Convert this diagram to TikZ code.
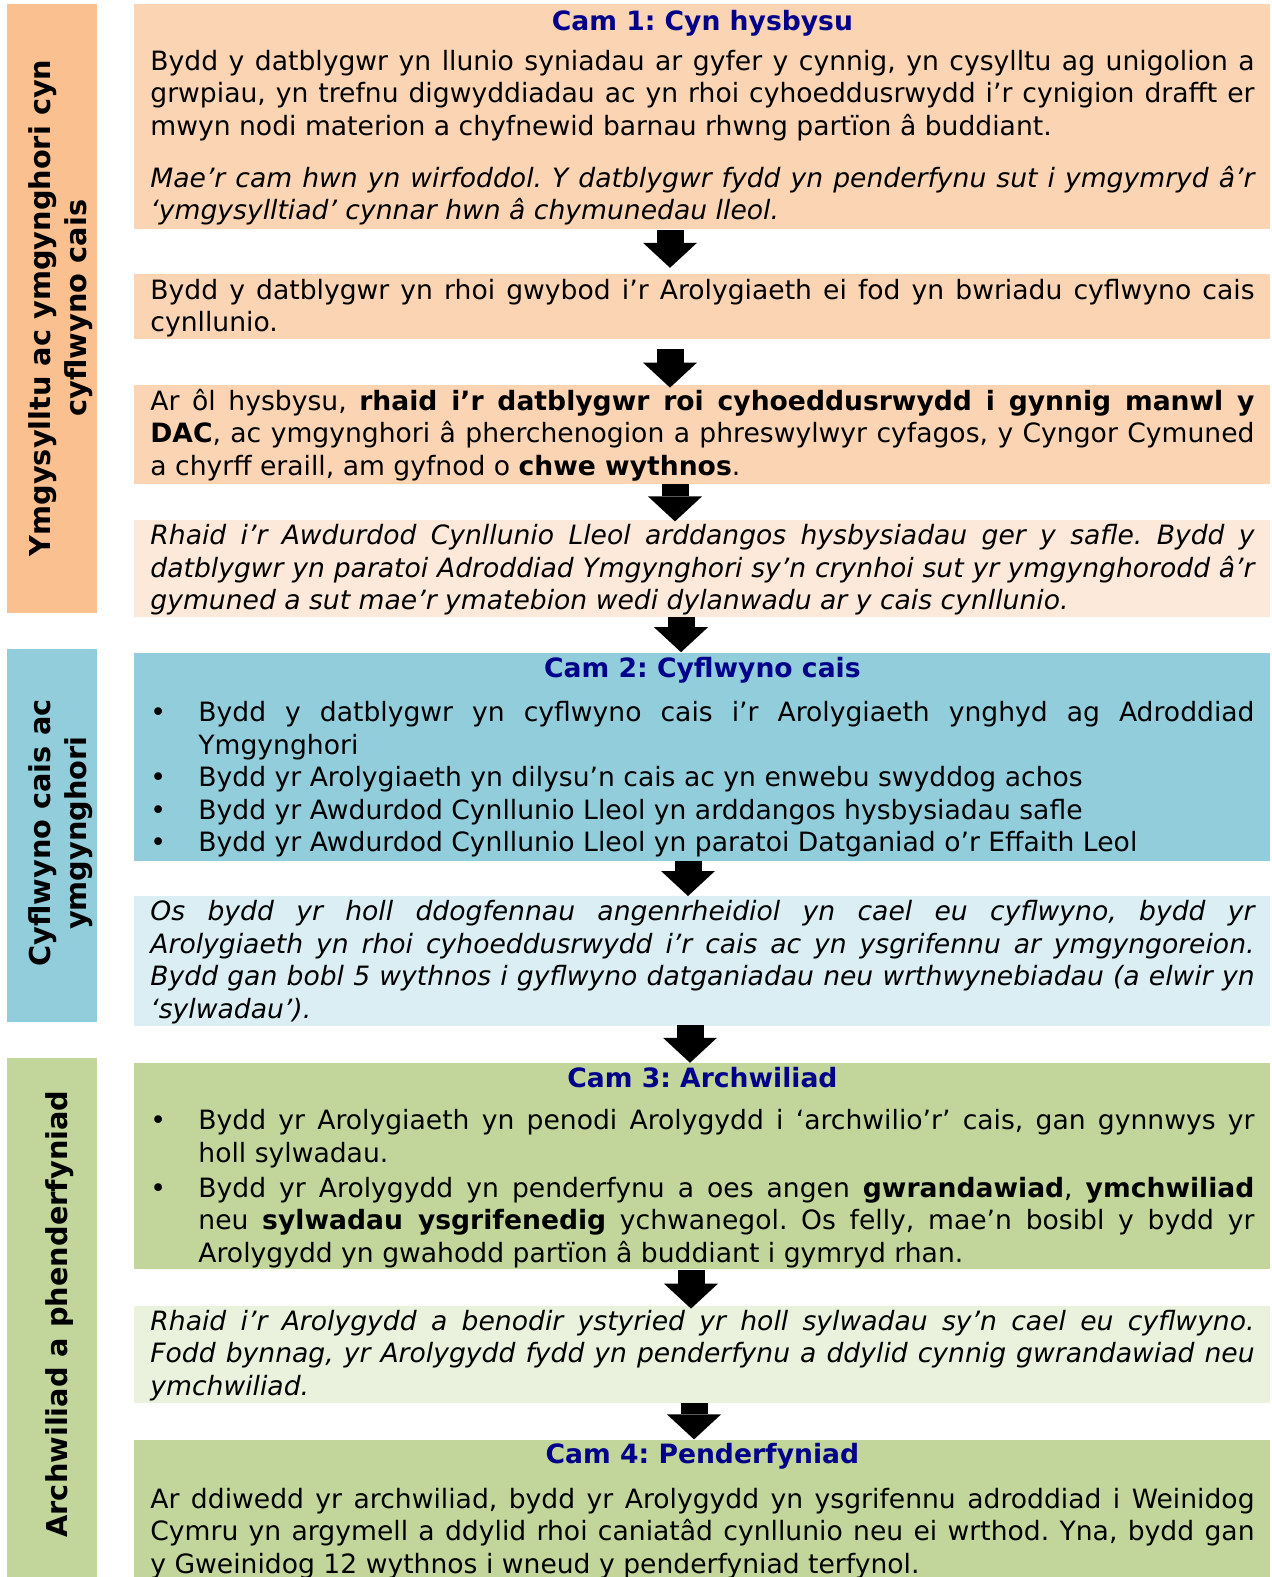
\documentclass[tikz,border=0pt]{standalone}
\usepackage{fontspec}
\setmainfont{DejaVu Sans}
\usepackage{enumitem}
\usetikzlibrary{arrows.meta, positioning}

\definecolor{phaseorange}{HTML}{FAC090}
\definecolor{steporange}{HTML}{FBD4B4}
\definecolor{noteorange}{HTML}{FDE9D9}
\definecolor{stepblue}{HTML}{92CDDC}
\definecolor{noteblue}{HTML}{DAEEF3}
\definecolor{stepgreen}{HTML}{C2D69B}
\definecolor{notegreen}{HTML}{EAF1DD}
\definecolor{camnavy}{HTML}{00008B}

\newcommand{\camhead}[2][5pt]{{\centering\bfseries\color{camnavy}#2\par}\vspace{#1}}
\setlist[itemize]{label=\textbullet, leftmargin=24pt, labelwidth=24pt, labelsep=0pt,
  align=left, topsep=0pt, partopsep=0pt, parsep=0pt, itemsep=0pt}
\tolerance=10000 \hyphenpenalty=10000 \exhyphenpenalty=10000

\begin{document}
\frenchspacing
\begin{tikzpicture}[x=0.5pt, y=-0.5pt,
      every node/.style = {inner sep=0pt},
      stage/.style = {anchor=north west, inner xsep=8pt, text width=552pt, align=justify,
        text height=13pt, font=\fontsize{13.3}{16.25}\selectfont\frenchspacing},
      phase/.style = {anchor=north west, minimum width=45pt},
      phaselabel/.style = {rotate=90, align=center, font=\fontsize{14.4}{18}\selectfont\bfseries},
      flow/.style = {line width=13.5pt, -{Triangle[width=27pt, length=12.5pt, line width=0pt]}}]

    \useasboundingbox (0,0) rectangle (1272,1577);

    % phases down the left side
    \node[phase, fill=phaseorange, minimum height=304.5pt] (engage) at (7,4) {};
    \node[phase, fill=stepblue, minimum height=186.5pt] (submit) at (7,649) {};
    \node[phase, fill=stepgreen, minimum height=259.5pt] (decide) at (7,1058) {};
    \node[phaselabel] (engageLabel) at (61,308) {Ymgysylltu ac ymgynghori cyn\\cyflwyno cais};
    \node[phaselabel] (submitLabel) at (61,833) {Cyflwyno cais ac\\ymgynghori};
    \node[phaselabel] (decideLabel) at (60,1314) {Archwiliad a phenderfyniad};

    % steps
    \node[stage, fill=steporange, text depth=99.5pt] (cam1) at (134,4) {\camhead[3.75pt]{Cam 1: Cyn hysbysu}
      Bydd y datblygwr yn llunio syniadau ar gyfer y cynnig, yn cysylltu ag unigolion a\linebreak
      grwpiau, yn trefnu digwyddiadau ac yn rhoi cyhoeddusrwydd i’r cynigion drafft er\linebreak
      mwyn nodi materion a chyfnewid barnau rhwng partïon â buddiant.\par\vspace{9.75pt}
      \textit{Mae’r cam hwn yn wirfoddol. Y datblygwr fydd yn penderfynu sut i ymgymryd â’r\linebreak
      ‘ymgysylltiad’ cynnar hwn â chymunedau lleol.}};
    \node[stage, fill=steporange, text height=12.5pt, text depth=20pt, below=22pt of cam1] (notify) {%
      Bydd y datblygwr yn rhoi gwybod i’r Arolygiaeth ei fod yn bwriadu cyflwyno cais\linebreak
      cynllunio.};
    \node[stage, fill=steporange, text height=12.75pt, text depth=36.75pt, below=22.5pt of notify] (publicise) {%
      Ar ôl hysbysu, \textbf{rhaid i’r datblygwr roi cyhoeddusrwydd i gynnig manwl y}\linebreak
      \textbf{DAC}, ac ymgynghori â pherchenogion a phreswylwyr cyfagos, y Cyngor Cymuned\linebreak
      a chyrff eraill, am gyfnod o \textbf{chwe wythnos}.};
    \node[stage, fill=noteorange, text height=12.5pt, text depth=36pt, below=17.5pt of publicise] (siteNotice) {%
      \itshape Rhaid i’r Awdurdod Cynllunio Lleol arddangos hysbysiadau ger y safle. Bydd y\linebreak
      datblygwr yn paratoi Adroddiad Ymgynghori sy’n crynhoi sut yr ymgynghorodd â’r\linebreak
      gymuned a sut mae’r ymatebion wedi dylanwadu ar y cais cynllunio.};
    \node[stage, fill=stepblue, text height=12.5pt, text depth=91.5pt, below=17.5pt of siteNotice] (cam2) {\camhead[5.75pt]{Cam 2: Cyflwyno cais}
      \begin{itemize}
        \item Bydd y datblygwr yn cyflwyno cais i’r Arolygiaeth ynghyd ag Adroddiad\linebreak Ymgynghori
        \item Bydd yr Arolygiaeth yn dilysu’n cais ac yn enwebu swyddog achos
        \item Bydd yr Awdurdod Cynllunio Lleol yn arddangos hysbysiadau safle
        \item Bydd yr Awdurdod Cynllunio Lleol yn paratoi Datganiad o’r Effaith Leol
      \end{itemize}};
    \node[stage, fill=noteblue, text height=12.25pt, text depth=52.75pt, below=17.5pt of cam2] (accepted) {%
      \itshape Os bydd yr holl ddogfennau angenrheidiol yn cael eu cyflwyno, bydd yr\linebreak
      Arolygiaeth yn rhoi cyhoeddusrwydd i’r cais ac yn ysgrifennu ar ymgyngoreion.\linebreak
      Bydd gan bobl 5 wythnos i gyflwyno datganiadau neu wrthwynebiadau (a elwir yn\linebreak
      ‘sylwadau’).};
    \node[stage, fill=stepgreen, text height=12pt, text depth=91pt, below=18pt of accepted] (cam3) {\camhead[5pt]{Cam 3: Archwiliad}
      \begin{itemize}[itemsep=1.25pt]
        \item Bydd yr Arolygiaeth yn penodi Arolygydd i ‘archwilio’r’ cais, gan gynnwys yr\linebreak holl sylwadau.
        \item Bydd yr Arolygydd yn penderfynu a oes angen \textbf{gwrandawiad}, \textbf{ymchwiliad}\linebreak
          neu \textbf{sylwadau ysgrifenedig} ychwanegol. Os felly, mae’n bosibl y bydd yr\linebreak
          Arolygydd yn gwahodd partïon â buddiant i gymryd rhan.
      \end{itemize}};
    \node[stage, fill=notegreen, text height=12pt, text depth=36.5pt, below=18pt of cam3] (appointed) {%
      \itshape Rhaid i’r Arolygydd a benodir ystyried yr holl sylwadau sy’n cael eu cyflwyno.\linebreak
      Fodd bynnag, yr Arolygydd fydd yn penderfynu a ddylid cynnig gwrandawiad neu\linebreak
      ymchwiliad.};
    \node[stage, fill=stepgreen, text height=12pt, text depth=60pt, below=18pt of appointed] (cam4) {\camhead[6pt]{Cam 4: Penderfyniad}
      Ar ddiwedd yr archwiliad, bydd yr Arolygydd yn ysgrifennu adroddiad i Weinidog\linebreak
      Cymru yn argymell a ddylid rhoi caniatâd cynllunio neu ei wrthod. Yna, bydd gan\linebreak
      y Gweinidog 12 wythnos i wneud y penderfyniad terfynol.};

    % block arrows between the steps
    \draw[flow, shorten >=3pt] (cam1.south -| 670,0) -- (notify.north -| 670,0);
    \draw[flow, shorten <=4.5pt, shorten >=-1.5pt] (notify.south -| 670,0) -- (publicise.north -| 670,0);
    \draw[flow, shorten >=-1pt] (publicise.south -| 675,0) -- (siteNotice.north -| 675,0);
    \draw[flow] (siteNotice.south -| 681,0) -- (cam2.north -| 681,0);
    \draw[flow] (cam2.south -| 688,0) -- (accepted.north -| 688,0);
    \draw[flow, shorten <=-1pt] (accepted.south -| 690,0) -- (cam3.north -| 690,0);
    \draw[flow, shorten >=-1.5pt] (cam3.south -| 691,0) -- (appointed.north -| 691,0);
    \draw[flow] (appointed.south -| 694,0) -- (cam4.north -| 694,0);
\end{tikzpicture}
\end{document}
